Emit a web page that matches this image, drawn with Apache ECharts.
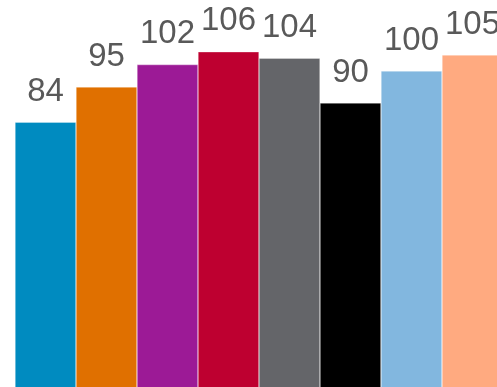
<!DOCTYPE html>
<html><head><meta charset="utf-8">
<script src="https://cdn.jsdelivr.net/npm/echarts@6/dist/echarts.min.js"></script>
<style>html,body{margin:0;padding:0;background:#fff}#c{width:497px;height:387px}</style>
</head><body><div id="c"></div>
<script>
const categories = ['A','B','C','D','E','F','G','H'];
const values = [84, 95, 102, 106, 104, 90, 100, 105];
const colors = ['#008BC0','#E07000','#9C1A96','#BE0030','#646569','#000000','#82B7DF','#FFAA80'];

const chart = echarts.init(document.getElementById('c'));
chart.setOption({
  animation: false,
  grid: {left: 15, width: 488, top: 7, bottom: -4, outerBoundsMode: 'none', containLabel: false},
  xAxis: {type: 'category', data: categories, show: false},
  yAxis: {type: 'value', min: 0, max: 120, show: false},
  series: [{
    type: 'bar',
    barCategoryGap: 0,
    data: values.map((v, i) => ({value: v, itemStyle: {color: colors[i]}})),
    itemStyle: {borderColor: 'rgba(255,255,255,0.6)', borderWidth: 0.5},
    label: {
      show: true, position: 'top', distance: 14,
      color: '#595959', fontSize: 33, fontFamily: 'Liberation Sans'
    }
  }]
});
</script></body></html>
